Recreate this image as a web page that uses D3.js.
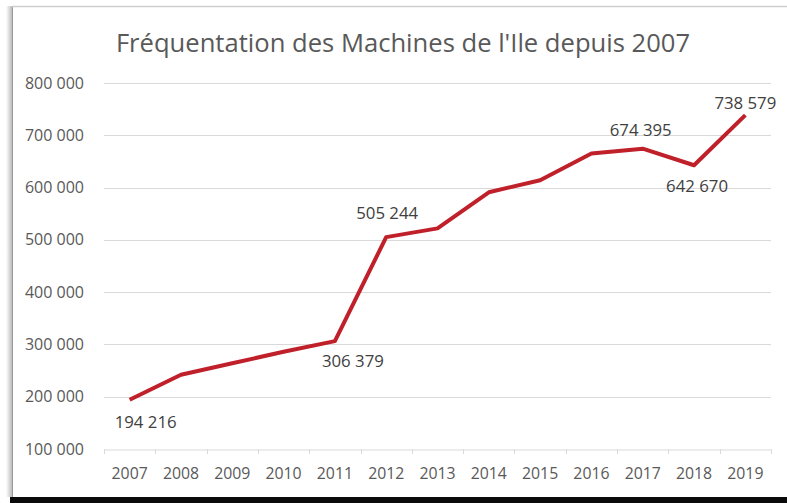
<!DOCTYPE html>
<html>
<head>
<meta charset="utf-8">
<script src="https://cdn.jsdelivr.net/npm/d3@7"></script>
<style>
  body { margin: 0; background: #fff; }
  svg { display: block; }
</style>
</head>
<body>
<div id="chart"></div>
<script>
// données
const years = ["2007", "2008", "2009", "2010", "2011", "2012", "2013",
  "2014", "2015", "2016", "2017", "2018", "2019"];
const visitors = [194216, 242000, 264000, 286000, 306379, 505244, 522000,
  591000, 614000, 665000, 674395, 642670, 738579];
const labelled = ["2007", "2011", "2012", "2017", "2018", "2019"];
const yTicks = [100000, 200000, 300000, 400000, 500000, 600000, 700000, 800000];

const width = 787;
const height = 503;
const marginLeft = 104;
const marginRight = 16;
const marginTop = 83;
const plotBottom = 449;

// décalage des étiquettes (dx, dy) par rapport au point
const labelOffset = {
  "2007": [16, 28], "2011": [18, 26], "2012": [1, -18],
  "2017": [-2, -13], "2018": [3, 27], "2019": [0, -6]
};

const svg = d3.select("#chart").append("svg")
  .attr("width", width)
  .attr("height", height);

// cadre
const defs = svg.append("defs");
const grad = defs.append("linearGradient").attr("id", "shadeL");
grad.append("stop").attr("offset", "0%").attr("stop-color", "#fff");
grad.append("stop").attr("offset", "100%").attr("stop-color", "#b0b0b0");
svg.append("rect").attr("x", 6).attr("y", 6).attr("width", 7).attr("height", 491)
  .attr("fill", "url(#shadeL)");
svg.append("line").attr("x1", 12.5).attr("x2", 12.5).attr("y1", 6).attr("y2", 497)
  .attr("stroke", "#9a9a9a").attr("stroke-width", 1);
svg.append("line").attr("x1", 12).attr("x2", width).attr("y1", 6.5).attr("y2", 6.5)
  .attr("stroke", "#cfcfcf").attr("stroke-width", 1.5);
svg.append("rect").attr("x", 10).attr("y", 497).attr("width", width - 10).attr("height", 6)
  .attr("fill", "#0a0a0a");

// échelles
const x = d3.scaleBand().domain(years).range([marginLeft, width - marginRight]);
const y = d3.scaleLinear().domain([100000, 800000]).range([plotBottom, marginTop]);

const fmt = (v) => d3.format(",")(v).replace(/,/g, " ");
const font = "Open Sans, sans-serif";

// titre
svg.append("text")
  .attr("x", 403).attr("y", 52)
  .attr("text-anchor", "middle")
  .attr("font-family", font)
  .attr("font-size", 25.6)
  .attr("fill", "#595959")
  .text("Fréquentation des Machines de l'Ile depuis 2007");

// grille
svg.append("g")
  .selectAll("line")
  .data(yTicks.slice(1))
  .join("line")
  .attr("x1", marginLeft).attr("x2", width - marginRight)
  .attr("y1", (d) => Math.round(y(d)) + 0.5).attr("y2", (d) => Math.round(y(d)) + 0.5)
  .attr("stroke", "#d9d9d9");

// axe Y
const yAxis = svg.append("g")
  .attr("transform", `translate(${marginLeft - 17},0)`)
  .call(d3.axisLeft(y).tickValues(yTicks).tickFormat(fmt).tickSize(0));
yAxis.select(".domain").remove();
yAxis.selectAll("text")
  .attr("font-family", font)
  .attr("font-size", 16)
  .attr("fill", "#595959");

// axe X
const xAxis = svg.append("g")
  .attr("transform", `translate(0,${plotBottom + 0.5})`)
  .call(d3.axisBottom(x).tickSize(0).tickPadding(18));
xAxis.select(".domain").attr("stroke", "#d9d9d9");
xAxis.selectAll("text")
  .attr("font-family", font)
  .attr("font-size", 15.8)
  .attr("fill", "#595959");
svg.append("g")
  .selectAll("line")
  .data(years.concat(["end"]))
  .join("line")
  .attr("x1", (d, i) => Math.round(marginLeft + i * x.step()) + 0.5)
  .attr("x2", (d, i) => Math.round(marginLeft + i * x.step()) + 0.5)
  .attr("y1", plotBottom).attr("y2", plotBottom + 5)
  .attr("stroke", "#d9d9d9");

// courbe
const data = years.map((yr, i) => ({ year: yr, value: visitors[i] }));
const cx = (d) => x(d.year) + x.bandwidth() / 2;
const line = d3.line()
  .x(cx)
  .y((d) => y(d.value));

svg.append("path")
  .datum(data)
  .attr("fill", "none")
  .attr("stroke", "#c0202a")
  .attr("stroke-width", 4)
  .attr("stroke-linejoin", "round")
  .attr("d", line);

// étiquettes
svg.append("g")
  .selectAll("text")
  .data(data.filter((d) => labelled.includes(d.year)))
  .join("text")
  .attr("x", (d) => cx(d) + labelOffset[d.year][0])
  .attr("y", (d) => y(d.value) + labelOffset[d.year][1])
  .attr("text-anchor", "middle")
  .attr("font-family", font)
  .attr("font-size", 16.8)
  .attr("fill", "#404040")
  .text((d) => fmt(d.value));
</script>
</body>
</html>
